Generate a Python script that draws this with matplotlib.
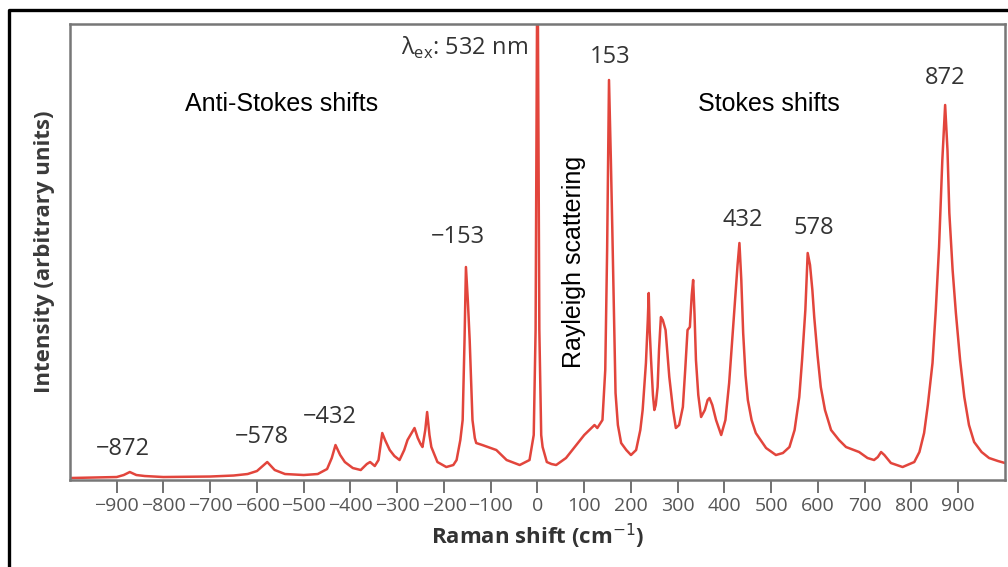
import matplotlib.pyplot as plt
from matplotlib.lines import Line2D

# Raman spectrum traced point by point: shift in cm^-1 and intensity (arbitrary units)
raman_shift = [
    -1000, -950, -900, -885, -872, -858, -840, -800, -700, -650, -620, -600,
    -578, -562, -540, -500, -470, -450, -440, -432, -422, -412, -395, -378,
    -365, -358, -348, -340, -332, -326, -316, -306, -295, -285, -278, -268,
    -263, -256, -250, -246, -240, -236, -231, -227, -214, -195, -180, -173,
    -165, -160, -156, -153, -149, -145, -141, -139, -134, -131, -118, -100,
    -88, -66, -38, -17, -8, -4, 0, 4, 8, 11, 20, 30,
    40, 61, 83, 100, 111, 122, 128, 139, 145, 149, 153, 157,
    160, 163, 167, 172, 179, 190, 200, 211, 220, 225, 232, 236,
    238, 240, 243, 247, 250, 253, 257, 260, 264, 268, 274, 282,
    290, 296, 303, 311, 316, 321, 326, 330, 333, 336, 339, 344,
    350, 358, 364, 368, 374, 382, 393, 402, 410, 421, 428, 432,
    436, 440, 445, 450, 458, 467, 489, 510, 525, 539, 550, 560,
    566, 573, 578, 583, 588, 592, 599, 606, 615, 628, 645, 660,
    688, 706, 720, 728, 735, 742, 756, 781, 806, 817, 827, 835,
    845, 852, 859, 866, 872, 877, 881, 888, 895, 904, 913, 923,
    934, 950, 966, 985, 1000,
]
intensity = [
    2, 2.5, 3, 5, 8, 5, 4, 3, 3.5, 4.5, 6, 9,
    18, 10, 6, 5, 6, 11, 22, 35, 25, 18, 12, 10,
    16, 18, 14, 20, 47, 40, 30, 24, 20, 30, 40, 48,
    52, 42, 36, 33, 50, 68, 45, 33, 18, 13, 15, 20,
    40, 60, 140, 213, 180, 140, 85, 60, 42, 37, 35, 32,
    30, 20, 15, 20, 45, 150, 560, 150, 45, 33, 18, 16,
    15, 22, 35, 45, 50, 55, 52, 60, 110, 230, 400, 320,
    253, 180, 87, 55, 37, 30, 25, 30, 50, 70, 117, 160,
    187, 150, 120, 85, 70, 75, 93, 130, 163, 160, 150, 103,
    70, 52, 55, 73, 110, 150, 153, 185, 200, 165, 120, 85,
    63, 70, 80, 82, 75, 60, 45, 60, 97, 170, 215, 237,
    200, 147, 105, 80, 60, 47, 32, 25, 27, 33, 50, 83,
    120, 170, 227, 215, 190, 163, 125, 93, 70, 50, 40, 33,
    28, 22, 20, 23, 28, 25, 17, 13, 18, 28, 47, 75,
    117, 170, 233, 320, 375, 330, 267, 210, 167, 120, 83, 55,
    38, 28, 22, 19, 17,
]

# peak labels and where their text sits
peak_labels = ['\u2212872', '\u2212578', '\u2212432', '\u2212153', '153', '432', '578', '872']
label_x = [-887, -590, -445, -171, 156, 440, 592, 872]
label_y = [31, 43, 63, 243, 423, 260, 252, 402]

x_ticks = list(range(-900, 1000, 100))

num_font = ['Open Sans', 'DejaVu Sans']
line_color = '#e2453c'
text_gray = '#333333'


def plot_spectrum():
    fig = plt.figure(figsize=(10.08, 5.67), dpi=100)
    ax = fig.add_axes([0.0694, 0.1534, 0.9276, 0.8043])

    ax.plot(raman_shift, intensity, color=line_color, linewidth=1.8)
    ax.set_xlim(-1000, 1000)
    ax.set_ylim(0, 456)

    # peak position labels
    for txt, lx, ly in zip(peak_labels, label_x, label_y):
        ax.text(lx, ly, txt, ha='center', va='center', fontsize=17,
                color=text_gray, family=num_font)

    # excitation wavelength, upright lambda with a small subscript
    ax.text(-20, 432, '\u03bb$_{\\mathregular{ex}}$: 532 nm', ha='right', va='center',
            fontsize=17, color=text_gray, family=num_font)

    # region captions
    ax.text(-547, 376, 'Anti-Stokes shifts', ha='center', va='center',
            fontsize=18, family='Liberation Sans', color='black')
    ax.text(496, 376, 'Stokes shifts', ha='center', va='center',
            fontsize=18, family='Liberation Sans', color='black')
    ax.text(79, 218, 'Rayleigh scattering', ha='center', va='center', rotation=90,
            fontsize=18, family='Liberation Sans', color='black')

    # axes styling
    ax.set_xticks(x_ticks)
    ax.set_xticklabels([f'\u2212{abs(t)}' if t < 0 else str(t) for t in x_ticks],
                       family=num_font, fontsize=14, color='#555555')
    ax.set_yticks([])
    ax.tick_params(axis='x', direction='out', length=9, width=1.3, color='#666666', pad=3)
    for spine in ax.spines.values():
        spine.set_color('#777777')
        spine.set_linewidth(1.8)

    ax.set_xlabel('Raman shift (cm$^{-1}$)', fontsize=16, fontweight='bold',
                  color=text_gray, family=num_font)
    ax.xaxis.set_label_coords(0.5, -0.123)
    ax.xaxis.label.set_va('center')
    ax.set_ylabel('Intensity (arbitrary units)', fontsize=16, fontweight='bold',
                  color='#3a3a3a', family=num_font)
    ax.yaxis.set_label_coords(-0.027, 0.5)
    ax.yaxis.label.set_va('center')

    # black frame along the left and top of the figure
    fx = 8.5 / 1008
    fy = 1 - 10 / 567
    fig.add_artist(Line2D([fx, fx, 1.0], [0.0, fy, fy], color='black',
                          linewidth=2.4, transform=fig.transFigure))

    fig.savefig('out.png', dpi=100)


plot_spectrum()
